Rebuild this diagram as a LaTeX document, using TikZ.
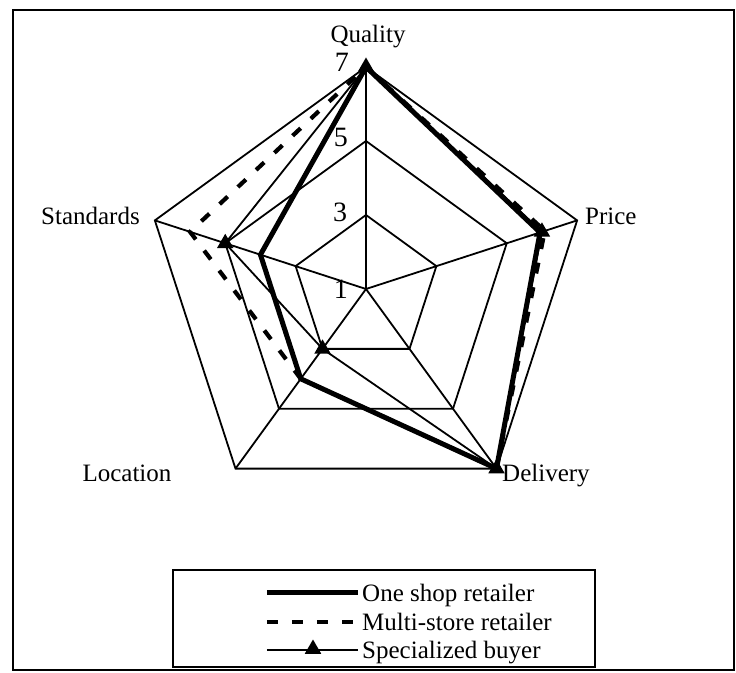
\documentclass[tikz,border=0pt]{standalone}
\usepackage{fontspec}
\setmainfont{Liberation Serif}
\usetikzlibrary{shapes.geometric}
\begin{document}
\begin{tikzpicture}[x=1pt,y=1pt,
  grid/.style={line width=1.8pt, line join=miter},
  oneshop/.style={line width=5pt, line join=miter},
  multi/.style={line width=4.2pt, dash pattern=on 11pt off 14pt},
  spec/.style={line width=1.8pt, line join=miter},
  tri/.style={regular polygon, regular polygon sides=3, fill=black, inner sep=0pt, minimum size=19pt},
  lab/.style={font=\fontsize{25}{29}\selectfont, inner sep=0pt},
  num/.style={font=\fontsize{28}{30}\selectfont, inner sep=0pt, anchor=base},
]
\useasboundingbox (-366,289) rectangle (370,-383);
\draw[line width=2pt] (-353,279) rectangle (368,-381);

% grid
\coordinate (O) at (0,0);
\foreach \a/\n in {90/Q,18/P,-54/D,-126/L,162/S} {
  \coordinate (o\n) at (\a:222);
  \coordinate (m\n) at (\a:148);
  \coordinate (i\n) at (\a:74);
}
\draw[grid] (oQ)--(oP)--(oD)--(oL)--(oS)--cycle;
\draw[grid] (mQ)--(mP)--(mD)--(mL)--(mS)--cycle;
\draw[grid] (iQ)--(iP)--(iD)--(iL)--(iS)--cycle;
\foreach \n in {Q,P,D,L,S} \draw[grid] (O)--(o\n);

% data points
\coordinate (aQ) at (90:222);
\coordinate (aP) at (18:183);
\coordinate (aD) at (-54:222);
\coordinate (aL) at (-126:111);
\coordinate (aS) at (162:111);

\coordinate (bQ) at (90:222);
\coordinate (bP) at (18:188);
\coordinate (bD) at (-54:222);
\coordinate (bL) at (-126:111);
\coordinate (bS) at (162:185);

\coordinate (cQ) at (90:222);
\coordinate (cP) at (18:185);
\coordinate (cD) at (-54:222);
\coordinate (cL) at (-126:74);
\coordinate (cS) at (162:148);

\draw[multi] (bQ)--(bP)--(bD)--(bL)--(bS)--cycle;
\draw[spec] (cQ)--(cP)--(cD)--(cL)--(cS)--cycle;
\draw[oneshop] (aQ)--(aP)--(aD)--(aL)--(aS)--cycle;
\foreach \n in {Q,P,D,L,S} \node[tri] (t\n) at (c\n) {};

% axis labels
\node[lab, anchor=base] (lQ) at (2,246) {Quality};
\node[lab, anchor=base west] (lP) at (219,64) {Price};
\node[lab, anchor=base east] (lS) at (-226,64) {Standards};
\node[lab, anchor=base] (lL) at (-239,-192) {Location};
\node[lab, anchor=base west] (lD) at (136,-192) {Delivery};

% scale numbers
\node[num] (n7) at (-24,217) {7};
\node[num] (n5) at (-25,142) {5};
\node[num] (n3) at (-26,67) {3};
\node[num] (n1) at (-25,-9) {1};

% legend
\draw[line width=2pt] (-193,-281) rectangle (229,-378);
\coordinate (l1a) at (-99,-303); \coordinate (l1b) at (-8,-303);
\coordinate (l2a) at (-99,-333); \coordinate (l2b) at (-8,-333);
\coordinate (l3a) at (-99,-361); \coordinate (l3b) at (-8,-361);
\draw[oneshop] (l1a)--(l1b);
\draw[multi] (l2a)--(l2b);
\draw[spec] (l3a)--(l3b);
\node[tri] (lt) at (-53,-360) {};
\node[lab, anchor=base west] (g1) at (-4,-312) {One shop retailer};
\node[lab, anchor=base west] (g2) at (-4,-341) {Multi-store retailer};
\node[lab, anchor=base west] (g3) at (-4,-369) {Specialized buyer};
\end{tikzpicture}
\end{document}
